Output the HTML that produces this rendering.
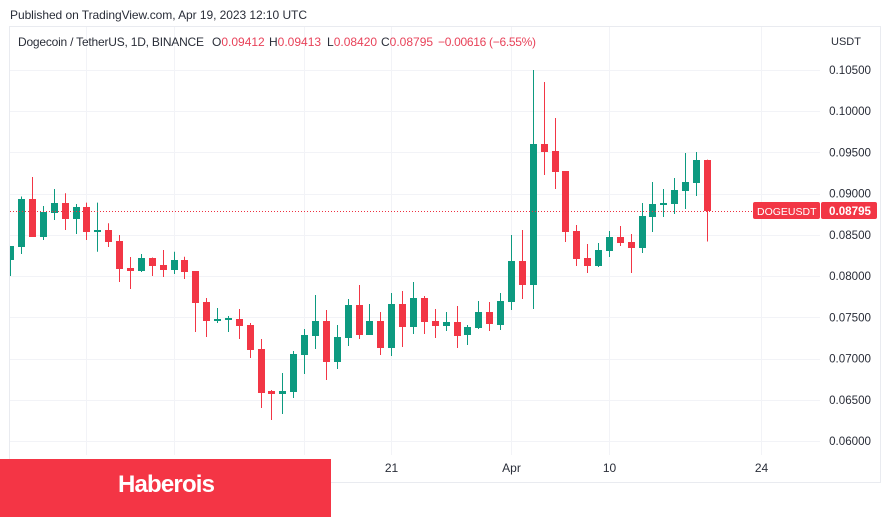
<!DOCTYPE html>
<html lang="en">
<head>
<meta charset="utf-8">
<title>DOGEUSDT chart</title>
<style>
html,body{margin:0;padding:0;background:#fff;width:891px;height:518px;overflow:hidden}
svg{display:block;font-family:"Liberation Sans",sans-serif}
text{fill:#2a2e39;font-size:12px}
.r{fill:#e8435a}
#yAxis text{font-size:11.6px}
</style>
</head>
<body>
<svg id="chart" xmlns="http://www.w3.org/2000/svg" width="891" height="518" viewBox="0 0 891 518">
  <text x="10" y="19" textLength="297" lengthAdjust="spacing">Published on TradingView.com, Apr 19, 2023 12:10 UTC</text>
  <rect x="9.5" y="26.5" width="871" height="456" fill="#fff" stroke="#e9ebf0"/>
  <g id="grid"></g>
  <g id="candles"></g>
  <line id="lastLine" stroke="#ee3040" stroke-width="1" stroke-dasharray="1 2"/>
  <g id="yAxis"></g>
  <g id="xAxis"></g>
  <text x="831" y="45" style="font-size:11px">USDT</text>
  <g>
    <text x="18" y="46" textLength="186">Dogecoin / TetherUS, 1D, BINANCE</text>
    <text x="212" y="46">O<tspan class="r">0.09412</tspan></text>
    <text x="269" y="46">H<tspan class="r">0.09413</tspan></text>
    <text x="327" y="46">L<tspan class="r">0.08420</tspan></text>
    <text x="381" y="46">C<tspan class="r">0.08795</tspan></text>
    <text class="r" x="438" y="46" textLength="98">−0.00616 (−6.55%)</text>
  </g>
  <g id="lastTag">
    <rect x="753" y="202" width="67" height="17" rx="2" fill="#f23645"/>
    <rect x="821" y="202" width="56" height="17" rx="2" fill="#f23645"/>
    <text x="757" y="215" style="fill:#fff;font-size:10.5px">DOGEUSDT</text>
    <text id="lastPriceText" x="829" y="215" textLength="42" style="fill:#fff;font-weight:bold;font-size:11.6px">0.08795</text>
  </g>
  <rect x="0" y="459" width="331" height="58" fill="#f43545"/>
  <text x="118" y="492" textLength="97" style="fill:#fff;font-size:24px;font-weight:bold">Haberois</text>
</svg>
<script>
const opens  = [.08196,.08357,.08935,.08478,.08769,.08887,.08697,.08838,.08539,.08559,.08426,.08098,.08062,.08220,.08135,.08074,.08196,.08062,.07686,.07456,.07480,.07480,.07407,.07116,.06607,.06570,.06594,.07043,.07274,.07456,.06958,.07249,.07650,.07286,.07456,.07128,.07662,.07383,.07735,.07456,.07395,.07443,.07286,.07371,.07565,.07407,.07686,.08183,.07892,.09603,.09518,.09275,.08547,.08220,.08123,.08305,.08475,.08414,.08341,.08717,.08863,.08875,.09033,.09130,.09412];
const highs  = [.08365,.08966,.09202,.08851,.09057,.09005,.08875,.08891,.08891,.08641,.08499,.08232,.08268,.08226,.08317,.08296,.08235,.08062,.07735,.07613,.07516,.07601,.07431,.07237,.06619,.06825,.07092,.07359,.07771,.07589,.07407,.07722,.07892,.07662,.07565,.07795,.07820,.07929,.07759,.07601,.07565,.07638,.07407,.07698,.07686,.07795,.08499,.08559,.10500,.10355,.09918,.09275,.08620,.08390,.08402,.08547,.08608,.08511,.08887,.09142,.09057,.09190,.09493,.09506,.09413];
const lows   = [.08001,.08268,.08478,.08438,.08681,.08559,.08511,.08438,.08296,.08353,.07929,.07844,.08050,.08001,.07989,.08026,.07965,.07322,.07262,.07431,.07322,.07237,.07007,.06400,.06255,.06328,.06522,.06813,.07116,.06740,.06873,.07152,.07237,.07286,.07043,.07031,.07140,.07298,.07298,.07249,.07334,.07128,.07164,.07359,.07334,.07346,.07589,.07722,.07601,.09227,.09057,.08414,.08123,.08038,.08111,.08232,.08365,.08038,.08280,.08535,.08717,.08754,.08814,.08972,.08420];
const closes = [.08365,.08935,.08478,.08778,.08887,.08697,.08838,.08539,.08559,.08414,.08090,.08062,.08220,.08123,.08074,.08196,.08050,.07674,.07456,.07480,.07492,.07395,.07104,.06582,.06570,.06607,.07055,.07286,.07456,.06958,.07262,.07650,.07286,.07456,.07128,.07662,.07383,.07735,.07443,.07395,.07443,.07274,.07383,.07565,.07419,.07698,.08183,.07892,.09603,.09506,.09263,.08535,.08208,.08123,.08317,.08475,.08402,.08341,.08729,.08875,.08887,.09045,.09142,.09409,.08795];
const priceTicks = [0.06,0.065,0.07,0.075,0.08,0.085,0.09,0.095,0.10,0.105];
const dateTickIndex = [7,15,27,35,46,55,69];
const dateTickLabels = ["21","Mar","13","21","Apr","10","24"];
const lastPrice = 0.08795;

const NS = "http://www.w3.org/2000/svg";
const yOf = p => 441 - (p - 0.06) * 8244;
const xOf = i => Math.floor(10.75 + 10.885 * i) + 0.5;
const make = (tag, parent, props) => {
  const el = document.createElementNS(NS, tag);
  for (const k in props) el.setAttribute(k, props[k]);
  parent.appendChild(el);
  return el;
};
const grid = document.getElementById("grid");
const yAxis = document.getElementById("yAxis");
const xAxis = document.getElementById("xAxis");
const candles = document.getElementById("candles");

priceTicks.forEach(t => {
  const y = Math.round(yOf(t)) + 0.5;
  const line = make("line", grid, {x1: 10, x2: 820, y1: y, y2: y, stroke: "#f2f3f7"});
  
  
  const label = make("text", yAxis, {x: 871, y: yOf(t) + 4, "text-anchor": "end"});
  
  
  label.textContent = t.toFixed(5);
});

dateTickIndex.forEach((idx, n) => {
  const x = xOf(idx);
  const line = make("line", grid, {x1: x, x2: x, y1: 27, y2: 455, stroke: "#f2f3f7"});
  
  
  if (x > 331) {
    const label = make("text", xAxis, {x: x, y: 472, "text-anchor": "middle"});
    
    
    label.textContent = dateTickLabels[n];
  }
});

const last = document.getElementById("lastLine");
const lastY = Math.round(yOf(lastPrice)) + 0.5;
last.setAttribute("x1", 10);
last.setAttribute("x2", 753);
last.setAttribute("y1", lastY);
last.setAttribute("y2", lastY);
document.getElementById("lastPriceText").textContent = lastPrice.toFixed(5);

opens.forEach((o, i) => {
  const c = closes[i];
  const color = c >= o ? "#0d9a80" : "#f23645";
  const x = xOf(i);
  const g = make("g", candles, {});
  
  
  const top = yOf(Math.max(o, c));
  const bot = yOf(Math.min(o, c));
  if (x > 10) {
    const wick = make("line", g, {x1: x, x2: x, y1: yOf(highs[i]), y2: yOf(lows[i]), stroke: color});
    
    
  }
  const left = Math.max(10, x - 3.5);
  const body = make("rect", g, {x: left, y: Math.round(top), width: x + 3.5 - left, height: Math.max(2, Math.round(bot) - Math.round(top)), fill: color});
  
  
});
</script>
</body>
</html>
